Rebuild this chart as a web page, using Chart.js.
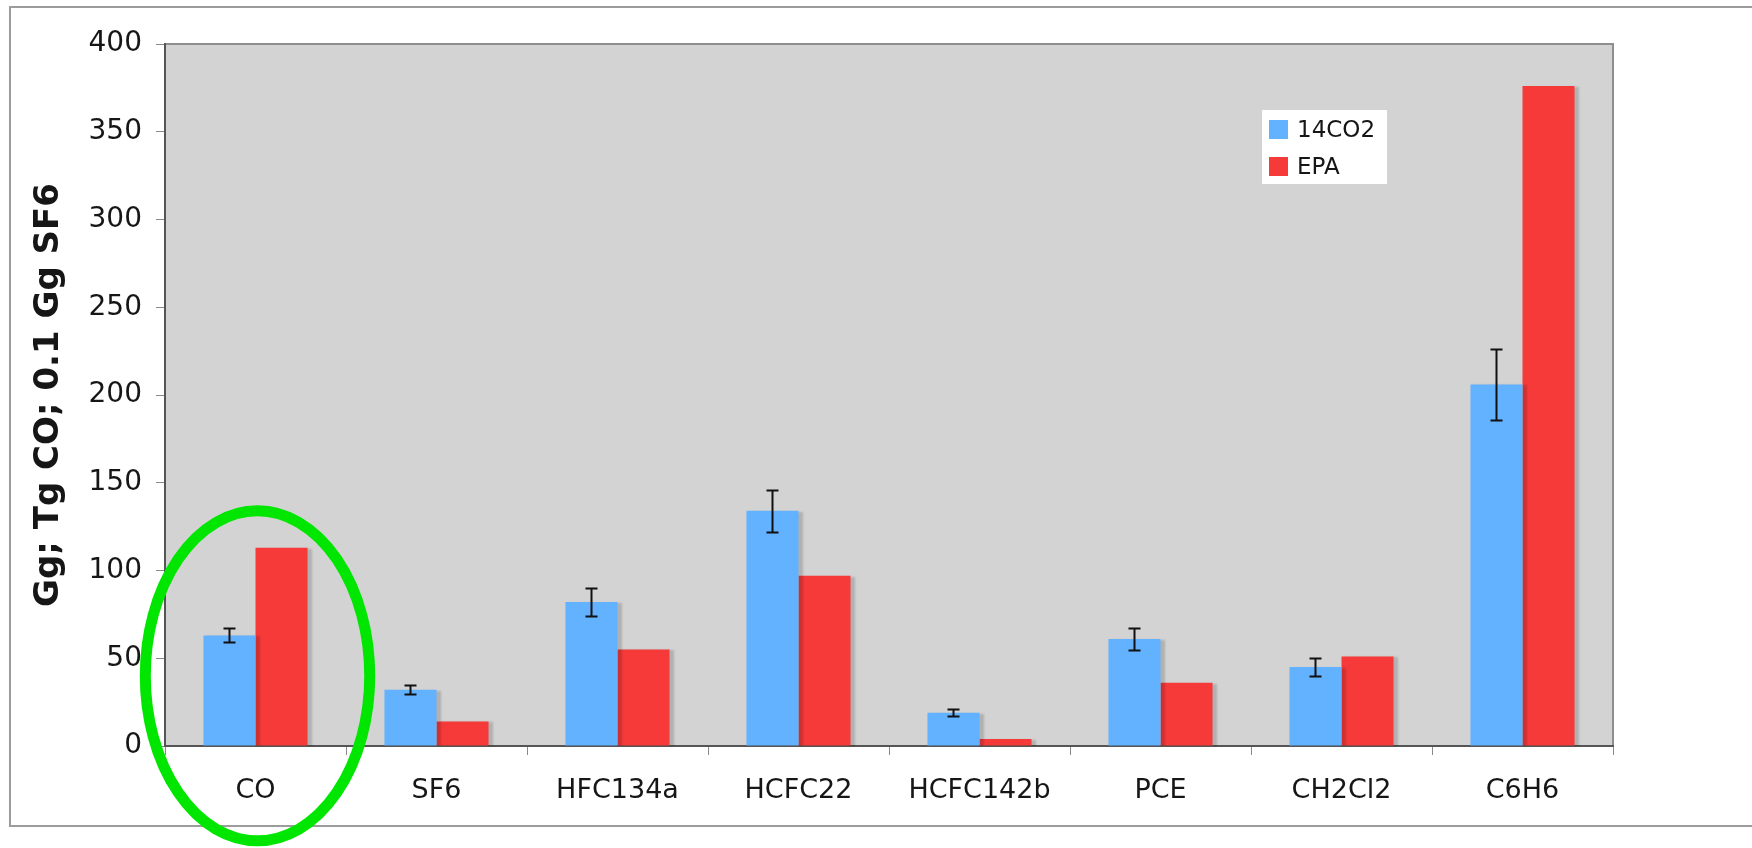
<!DOCTYPE html>
<html>
<head>
<meta charset="utf-8">
<title>Emissions: 14CO2 vs EPA</title>
<script src="https://cdn.jsdelivr.net/npm/chart.js@4.4.1/dist/chart.umd.min.js"></script>
<style>
  html, body { margin: 0; padding: 0; background: #ffffff; }
  #wrap { width: 1752px; height: 848px; }
</style>
</head>
<body>
<div id="wrap"><canvas id="chart" width="1752" height="848"></canvas></div>
<script>
// Species on the category axis
const categories = ['CO', 'SF6', 'HFC134a', 'HCFC22', 'HCFC142b', 'PCE', 'CH2Cl2', 'C6H6'];
// 14CO2-based estimates and their uncertainties (Gg; Tg for CO; 0.1 Gg for SF6)
const series14CO2 = [63, 32, 82, 134, 19, 61, 45, 206];
const errors14CO2 = [4, 2.5, 8, 12, 2, 6.5, 5, 20];
// EPA inventory values in the same units
const seriesEPA = [113, 14, 55, 97, 4, 36, 51, 376];
// Value axis range and tick spacing
const yMin = 0;
const yMax = 400;
const yStep = 50;

// Category highlighted with an ellipse
const highlightIndex = 0;

const BLUE = '#63b2ff';
const RED = '#f63a3a';
const TEXT = '#161616';

// Background, outer frame and plot-area border
const framePlugin = {
  id: 'frame',
  beforeDraw(chart) {
    const { ctx, chartArea: a, width, height } = chart;
    ctx.save();
    ctx.fillStyle = '#ffffff';
    ctx.fillRect(0, 0, width, height);
    ctx.strokeStyle = '#9c9c9c';
    ctx.lineWidth = 2;
    ctx.beginPath();
    ctx.moveTo(width, 7);
    ctx.lineTo(10, 7);
    ctx.lineTo(10, 826);
    ctx.lineTo(width, 826);
    ctx.stroke();
    ctx.fillStyle = '#d3d3d3';
    ctx.fillRect(a.left, a.top, a.width, a.height);
    ctx.strokeStyle = '#8e8e8e';
    ctx.lineWidth = 2;
    ctx.beginPath();
    ctx.moveTo(a.left, a.top);
    ctx.lineTo(a.right, a.top);
    ctx.lineTo(a.right, a.bottom);
    ctx.stroke();
    ctx.restore();
  }
};

// Soft drop shadow behind the bars, then error bars on the 14CO2 series
const barDecorPlugin = {
  id: 'barDecor',
  beforeDatasetDraw(chart) {
    const ctx = chart.ctx;
    ctx.save();
    ctx.shadowColor = 'rgba(0,0,0,0.16)';
    ctx.shadowOffsetX = 4;
    ctx.shadowOffsetY = 1;
    ctx.shadowBlur = 2;
  },
  afterDatasetDraw(chart) {
    chart.ctx.restore();
  },
  afterDatasetsDraw(chart) {
    const { ctx } = chart;
    const y = chart.scales.y;
    const meta = chart.getDatasetMeta(0);
    ctx.save();
    ctx.strokeStyle = '#111111';
    ctx.lineWidth = 2;
    meta.data.forEach((bar, i) => {
      const v = series14CO2[i];
      const e = errors14CO2[i];
      const yt = Math.round(y.getPixelForValue(v + e)) + 0.5;
      const yb = Math.round(y.getPixelForValue(v - e)) + 0.5;
      const x = Math.round(bar.x) + 0.5;
      const cap = 6;
      ctx.beginPath();
      ctx.moveTo(x, yt); ctx.lineTo(x, yb);
      ctx.moveTo(x - cap, yt); ctx.lineTo(x + cap, yt);
      ctx.moveTo(x - cap, yb); ctx.lineTo(x + cap, yb);
      ctx.stroke();
    });
    ctx.restore();
  }
};

// Boxed legend inside the plot area
const legendBoxPlugin = {
  id: 'legendBox',
  afterDraw(chart) {
    const { ctx } = chart;
    const bx = 1262, by = 110, bw = 125, bh = 74;
    ctx.save();
    ctx.fillStyle = '#ffffff';
    ctx.fillRect(bx, by, bw, bh);
    ctx.font = '23px "DejaVu Sans"';
    ctx.textBaseline = 'middle';
    chart.data.datasets.forEach((ds, i) => {
      const rowY = by + 20 + i * 37;
      ctx.fillStyle = ds.backgroundColor;
      ctx.fillRect(bx + 7, rowY - 10, 19, 19);
      ctx.fillStyle = TEXT;
      ctx.fillText(ds.label, bx + 35, rowY + 1);
    });
    ctx.restore();
  }
};

// Green ellipse around the highlighted category
const highlightPlugin = {
  id: 'highlight',
  afterDraw(chart) {
    const { ctx } = chart;
    const x = chart.scales.x;
    const y = chart.scales.y;
    const cx = x.getPixelForValue(highlightIndex) + 2;
    const slot = x.getPixelForValue(1) - x.getPixelForValue(0);
    const cy = y.getPixelForValue(40);
    const ry = y.getPixelForValue(0) - y.getPixelForValue(94);
    const rx = slot * 0.62;
    ctx.save();
    ctx.strokeStyle = '#00e600';
    ctx.lineWidth = 11;
    ctx.beginPath();
    ctx.ellipse(cx, cy, rx, ry, 0, 0, Math.PI * 2);
    ctx.stroke();
    ctx.restore();
  }
};

new Chart(document.getElementById('chart'), {
  type: 'bar',
  data: {
    labels: categories,
    datasets: [
      { label: '14CO2', data: series14CO2, backgroundColor: BLUE, borderWidth: 0 },
      { label: 'EPA', data: seriesEPA, backgroundColor: RED, borderWidth: 0 }
    ]
  },
  options: {
    responsive: false,
    animation: false,
    devicePixelRatio: 1,
    layout: { padding: { top: 44, right: 139, left: 0, bottom: 0 } },
    datasets: { bar: { categoryPercentage: 0.575, barPercentage: 1.0 } },
    plugins: {
      legend: { display: false },
      tooltip: { enabled: false }
    },
    scales: {
      x: {
        afterFit(scale) { scale.height = 102; },
        grid: {
          offset: true,
          drawOnChartArea: false,
          drawTicks: true,
          tickLength: 9,
          color: '#8a8a8a',
          lineWidth: 1
        },
        border: { display: true, color: '#555555', width: 2 },
        ticks: {
          color: TEXT,
          font: { family: '"DejaVu Sans"', size: 27 },
          padding: 20,
          maxRotation: 0,
          autoSkip: false
        }
      },
      y: {
        min: yMin,
        max: yMax,
        afterFit(scale) { scale.width = 165; },
        grid: {
          drawOnChartArea: false,
          drawTicks: true,
          tickLength: 9,
          color: '#8a8a8a',
          lineWidth: 1
        },
        border: { display: true, color: '#555555', width: 2 },
        ticks: {
          stepSize: yStep,
          color: TEXT,
          font: { family: '"DejaVu Sans"', size: 28 },
          padding: 14
        },
        title: {
          display: true,
          text: 'Gg; Tg CO; 0.1 Gg SF6',
          color: TEXT,
          font: { family: '"DejaVu Sans"', size: 34, weight: 'bold' },
          padding: { top: 29, bottom: 0 }
        }
      }
    }
  },
  plugins: [framePlugin, barDecorPlugin, legendBoxPlugin, highlightPlugin]
});
</script>
</body>
</html>
